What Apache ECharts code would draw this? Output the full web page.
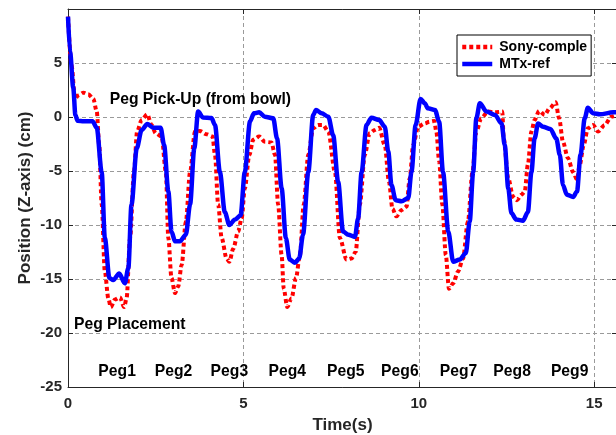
<!DOCTYPE html>
<html>
<head>
<meta charset="utf-8">
<script src="https://cdn.jsdelivr.net/npm/echarts@6/dist/echarts.min.js"></script>
<style>html,body{margin:0;padding:0;background:#fff}#c{width:616px;height:435px}</style>
</head>
<body>
<div id="c"></div>
<script>
// ---- data ----
var sonyTime = [0,0.1,0.2,0.29,0.44,0.58,0.72,0.82,0.89,0.96,1.05,1.15,1.22,1.34,1.48,1.6,1.67,1.77,1.88,1.97,2.1,2.26,2.38,2.5,2.67,2.79,2.86,2.95,3.05,3.14,3.24,3.36,3.48,3.62,3.76,3.95,4.12,4.19,4.28,4.38,4.52,4.6,4.71,4.85,4.95,5.04,5.17,5.28,5.45,5.61,5.8,5.9,5.99,6.09,6.15,6.25,6.37,6.5,6.61,6.72,6.85,6.99,7.13,7.27,7.42,7.61,7.75,7.94,8.08,8.2,8.32,8.46,8.6,8.75,8.87,9.03,9.15,9.25,9.36,9.51,9.65,9.74,9.84,9.98,10.17,10.31,10.44,10.5,10.58,10.67,10.77,10.86,10.98,11.12,11.26,11.4,11.53,11.64,11.78,11.97,12.17,12.38,12.42,12.55,12.69,12.8,12.93,13.02,13.11,13.21,13.3,13.43,13.59,13.73,13.9,14.0,14.11,14.25,14.4,14.51,14.59,14.7,14.82,14.97,15.11,15.3,15.49,15.65];
var sonyZ = [9.3,4.8,1.7,2.0,2.25,2.1,1.7,0.5,-2.6,-8.1,-14.3,-16.8,-17.6,-16.9,-16.7,-17.6,-16.8,-11.2,-5.1,-1.35,-0.28,0.25,-0.74,-1.5,-1.8,-5.1,-11.2,-14.9,-16.3,-15.7,-13.7,-9.7,-5.1,-1.35,-1.3,-1.6,-1.8,-3.5,-8.1,-11.2,-13.1,-13.4,-12.2,-10.6,-9.4,-6.6,-3.5,-2.1,-1.8,-2.3,-2.35,-3.5,-8.1,-12.8,-15.9,-17.6,-16.8,-14.9,-12.8,-8.1,-3.5,-1.05,-0.74,-0.74,-1.35,-5.1,-11.2,-13.2,-13.1,-12.5,-8.1,-3.5,-1.5,-1.2,-1.0,-2.6,-6.0,-8.5,-9.2,-8.6,-8.3,-5.7,-2.6,-0.9,-0.6,-0.43,-0.37,-1.35,-4.1,-8.1,-12.8,-15.9,-15.4,-14.3,-13.1,-9.7,-5.1,-1.35,-0.12,0.5,0.43,0.5,-2.0,-5.7,-7.4,-7.7,-7.2,-6.9,-4.4,-1.35,-0.28,0.56,0.19,0.8,1.36,-0.12,-2.3,-3.8,-5.1,-5.8,-4.4,-2.6,-1.05,-0.74,-1.35,-0.74,0.03,0.2];
var mtxTime = [0,0.06,0.15,0.21,0.27,0.45,0.7,0.82,0.96,1.05,1.18,1.29,1.46,1.62,1.72,1.81,1.96,2.1,2.26,2.43,2.64,2.74,2.86,2.95,3.05,3.19,3.36,3.48,3.6,3.71,3.85,4.09,4.19,4.33,4.47,4.6,4.76,4.92,5.04,5.19,5.3,5.45,5.61,5.85,5.96,6.09,6.21,6.32,6.47,6.59,6.7,6.85,6.99,7.07,7.23,7.42,7.56,7.7,7.84,7.99,8.18,8.27,8.37,8.51,8.65,8.87,9.03,9.13,9.22,9.34,9.51,9.7,9.79,9.91,10.05,10.17,10.26,10.46,10.58,10.69,10.84,10.98,11.17,11.34,11.45,11.55,11.64,11.74,11.93,12.17,12.36,12.45,12.55,12.64,12.78,12.97,13.11,13.21,13.3,13.4,13.54,13.75,13.92,14.02,14.11,14.22,14.4,14.51,14.61,14.73,14.82,14.97,15.16,15.54,15.65];
var mtxZ = [9.3,6.0,2.7,0.2,-0.35,-0.4,-0.4,-1.0,-5.1,-11.2,-14.9,-15.1,-14.5,-15.4,-14.0,-8.1,-2.9,-1.2,-0.65,-1.0,-1.0,-2.6,-6.9,-10.6,-11.5,-11.5,-10.9,-8.1,-2.9,0.5,-0.05,-0.1,-0.75,-5.1,-8.8,-10.0,-9.5,-9.1,-5.1,-0.4,0.34,0.43,0.03,-0.12,-2.0,-6.6,-11.2,-13.2,-13.5,-13.1,-10.9,-5.1,0.19,0.65,0.34,0.03,-1.7,-6.0,-10.6,-10.9,-11.1,-9.4,-5.1,-0.74,-0.06,-0.28,-0.9,-3.2,-6.3,-7.7,-7.8,-7.5,-5.1,-0.74,1.67,1.27,0.8,0.65,-0.43,-5.1,-10.6,-13.4,-13.2,-12.6,-9.7,-5.1,-0.12,1.27,0.5,0.19,-0.6,-2.6,-6.6,-8.9,-9.5,-9.6,-8.8,-5.1,-2.0,-0.6,-0.9,-1.1,-2.0,-3.5,-6.3,-7.2,-7.4,-6.9,-3.5,-0.12,0.86,0.34,0.25,0.43,0.45];
var seriesNames = ['Sony-comple', 'MTx-ref'];
var xTicks = [0, 5, 10, 15];
var yTicks = [-25, -20, -15, -10, -5, 0, 5];
var pegLabels = ['Peg1','Peg2','Peg3','Peg4','Peg5','Peg6','Peg7','Peg8','Peg9'];
var pegTimes = [1.40, 3.01, 4.60, 6.25, 7.92, 9.46, 11.13, 12.66, 14.30];
var pegLabelZ = -23.6;
var noteTexts = ['Peg Pick-Up (from bowl)', 'Peg Placement'];
var noteTimes = [1.19, 0.17];
var noteZ = [1.57, -19.2];

function zip(a, b) { return a.map(function (v, i) { return [v, b[i]]; }); }

var FONT = '"Liberation Sans", Arial, Helvetica, sans-serif';
var AX = '#262626';
var chart = echarts.init(document.getElementById('c'), null, {renderer: 'canvas'});

var gridLine = {show: true, lineStyle: {color: '#9a9a9a', type: [4, 3], width: 1}};
var labelStyle = {fontFamily: FONT, fontWeight: 'bold', fontSize: 15, color: AX};

var option = {
  animation: false,
  backgroundColor: '#fff',
  grid: {left: 68, top: 9, width: 549, height: 378, containLabel: false, outerBoundsMode: 'none'},
  legend: {
    data: seriesNames,
    orient: 'vertical',
    left: 457, top: 35,
    padding: [5, 4, 5, 3],
    itemWidth: 30, itemHeight: 14, itemGap: 3,
    backgroundColor: '#fff',
    borderColor: '#000', borderWidth: 1,
    itemStyle: {opacity: 0},
    lineStyle: {width: 4.5},
    textStyle: {fontFamily: FONT, fontWeight: 'bold', fontSize: 14, color: '#000', padding: [0, 0, 0, 2]}
  },
  xAxis: [{
    type: 'value', min: 0, max: 15.65, interval: 5,
    name: 'Time(s)', nameLocation: 'middle', nameGap: 30,
    nameTextStyle: {fontFamily: FONT, fontWeight: 'bold', fontSize: 17, color: AX},
    axisLine: {show: true, onZero: false, lineStyle: {color: AX, width: 1}},
    axisTick: {show: true, inside: true, length: 5, lineStyle: {color: AX}},
    axisLabel: Object.assign({margin: 9, formatter: function (v) { return xTicks.indexOf(v) >= 0 ? String(v) : ''; }}, labelStyle),
    splitLine: gridLine
  }, {
    type: 'value', min: 0, max: 15.65, interval: 5, position: 'top',
    axisLine: {show: true, onZero: false, lineStyle: {color: AX, width: 1}},
    axisTick: {show: true, inside: true, length: 5, lineStyle: {color: AX}},
    axisLabel: {show: false}, splitLine: {show: false}
  }],
  yAxis: [{
    type: 'value', min: -25, max: 10, interval: 5,
    name: 'Position (Z-axis) (cm)', nameLocation: 'middle', nameGap: 34, nameRotate: 90,
    nameMoveOverlap: false,
    nameTextStyle: {fontFamily: FONT, fontWeight: 'bold', fontSize: 17, color: AX},
    axisLine: {show: true, onZero: false, lineStyle: {color: AX, width: 1}},
    axisTick: {show: true, inside: true, length: 5, lineStyle: {color: AX}},
    axisLabel: Object.assign({margin: 6, formatter: function (v) { return yTicks.indexOf(v) >= 0 ? String(v) : ''; }}, labelStyle),
    splitLine: gridLine
  }, {
    type: 'value', min: -25, max: 10, interval: 5, position: 'right',
    axisLine: {show: true, onZero: false, lineStyle: {color: AX, width: 1}},
    axisTick: {show: true, inside: true, length: 5, lineStyle: {color: AX}},
    axisLabel: {show: false}, splitLine: {show: false}
  }],
  series: [{
    name: seriesNames[0], type: 'line', xAxisIndex: 0, yAxisIndex: 0,
    data: zip(sonyTime, sonyZ), showSymbol: false, symbol: 'none',
    smooth: 0.3, smoothMonotone: 'x',
    color: '#ff0000',
    lineStyle: {color: '#ff0000', width: 4, type: [4, 3], cap: 'butt'},
    z: 2
  }, {
    name: seriesNames[1], type: 'line', xAxisIndex: 0, yAxisIndex: 0,
    data: zip(mtxTime, mtxZ), showSymbol: false, symbol: 'none',
    smooth: 0.3, smoothMonotone: 'x',
    color: '#0000ff',
    lineStyle: {color: '#0000ff', width: 4.5},
    z: 3
  }]
};
chart.setOption(option);

function px(t, z) { return chart.convertToPixel({xAxisIndex: 0, yAxisIndex: 0}, [t, z]); }
function txt(s, p, align) {
  return {type: 'text', x: p[0], y: p[1], z: 100,
    style: {text: s, fontFamily: FONT, fontWeight: 'bold', fontSize: 15.7, fill: '#000', align: align, verticalAlign: 'middle'}};
}
var texts = [];
pegLabels.forEach(function (lab, i) { texts.push(txt(lab, px(pegTimes[i], pegLabelZ), 'center')); });
noteTexts.forEach(function (s, i) { texts.push(txt(s, px(noteTimes[i], noteZ[i]), 'left')); });
chart.setOption({graphic: texts});
</script>
</body>
</html>
